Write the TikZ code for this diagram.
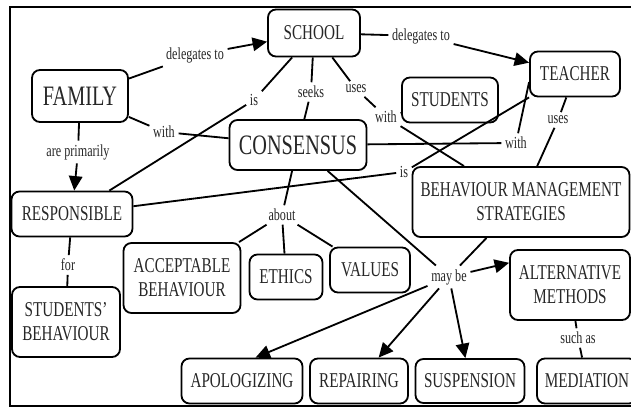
\documentclass[tikz,border=0pt]{standalone}
\usepackage{fontspec}
\setmainfont[FakeStretch=0.72]{Liberation Serif}
\usetikzlibrary{arrows.meta,calc}

\begin{document}
\begin{tikzpicture}[
	arr/.style={-{Triangle[angle=50:0.4cm]},line width=1.3pt},
	link/.style={line width=1.3pt},
	box/.style={rectangle,draw=black,rounded corners=0.2cm,line width=1.3pt,align=center,text=black!85,font=\fontsize{15}{17}\selectfont},
	bigbox/.style={box,font=\fontsize{20}{22}\selectfont},
	lbl/.style={inner sep=2.5pt,text=black!85,font=\fontsize{12}{14}\selectfont}]

    \clip (0cm,0cm) rectangle (15.775cm,10.2cm);
    \draw [line width=1.5pt] (0.25cm,0.05cm) rectangle (16.5cm,10.025cm);

    % concepts
    \node (SCHOOL) at (7.85cm,9.375cm) [box,minimum width=2.3cm,minimum height=1.175cm] {SCHOOL};
    \node (FAMILY) at (2cm,7.8cm) [bigbox,minimum width=2.4cm,minimum height=1.3cm] {FAMILY};
    \node (TEACHER) at (14.375cm,8.35cm) [box,minimum width=2.25cm,minimum height=1.125cm] {TEACHER};
    \node (STUDENTS) at (11.25cm,7.7cm) [box,minimum width=2.4cm,minimum height=1.125cm] {STUDENTS};
    \node (CONSENSUS) at (7.45cm,6.575cm) [bigbox,minimum width=3.425cm,minimum height=1.25cm] {CONSENSUS};
    \node (BMS) at (13.025cm,5.15cm) [box,minimum width=5.425cm,minimum height=1.75cm] {BEHAVIOUR MANAGEMENT\\STRATEGIES};
    \node (RESP) at (1.8cm,4.85cm) [box,minimum width=3.025cm,minimum height=1.125cm] {RESPONSIBLE};
    \node (STBEH) at (1.65cm,2.15cm) [box,minimum width=2.7cm,minimum height=1.75cm] {STUDENTS'\\BEHAVIOUR};
    \node (ACCEPT) at (4.55cm,3.25cm) [box,minimum width=2.925cm,minimum height=1.75cm] {ACCEPTABLE\\BEHAVIOUR};
    \node (ETHICS) at (7.15cm,3.275cm) [box,minimum width=1.825cm,minimum height=1.125cm] {ETHICS};
    \node (VALUES) at (9.25cm,3.45cm) [box,minimum width=2cm,minimum height=1.125cm] {VALUES};
    \node (ALT) at (14.25cm,3.075cm) [box,minimum width=3cm,minimum height=1.75cm] {ALTERNATIVE\\METHODS};
    \node (APOL) at (6.05cm,0.675cm) [box,minimum width=3.025cm,minimum height=1.125cm] {APOLOGIZING};
    \node (REPAIR) at (8.975cm,0.675cm) [box,minimum width=2.45cm,minimum height=1.125cm] {REPAIRING};
    \node (SUSP) at (11.75cm,0.675cm) [box,minimum width=2.725cm,minimum height=1.1cm] {SUSPENSION};
    \node (MED) at (14.675cm,0.675cm) [box,minimum width=2.5cm,minimum height=1.125cm] {MEDIATION};

    % linking words
    \node (delegFam) at (4.875cm,8.825cm) [lbl] {delegates to};
    \node (arePrim) at (1.95cm,6.4cm) [lbl] {are primarily};
    \node (withFam) at (4.1cm,6.9cm) [lbl] {with};
    \node (isSchool) at (6.35cm,7.7cm) [lbl] {is};
    \node (seeks) at (7.775cm,7.9cm) [lbl] {seeks};
    \node (usesSchool) at (8.9cm,7.975cm) [lbl] {uses};
    \node (withStud) at (9.65cm,7.275cm) [lbl] {with};
    \node (delegTeach) at (10.525cm,9.3cm) [lbl] {delegates to};
    \node (usesTeach) at (13.95cm,7.2cm) [lbl] {uses};
    \node (withTeach) at (12.9cm,6.625cm) [lbl] {with};
    \node (isTeach) at (10.1cm,5.9cm) [lbl] {is};
    \node (about) at (7.05cm,4.825cm) [lbl] {about};
    \node (maybe) at (11.225cm,3.275cm) [lbl] {may be};
    \node (for) at (1.7cm,3.575cm) [lbl] {for};
    \node (suchas) at (14.45cm,1.75cm) [lbl] {such as};

    % links
    \draw [link] (FAMILY) -- (delegFam);
    \draw [arr] (delegFam) -- (SCHOOL);
    \draw [link] (SCHOOL) -- (delegTeach);
    \draw [arr] (delegTeach) -- (TEACHER);
    \draw [link] (FAMILY) -- (arePrim);
    \draw [arr] (arePrim) -- (RESP);
    \draw [link] (FAMILY) -- (withFam);
    \draw [link] (withFam) -- (CONSENSUS);
    \draw [link] (RESP) -- (isSchool);
    \draw [link] (isSchool) -- (SCHOOL);
    \draw [link] (SCHOOL) -- (seeks);
    \draw [link] (seeks) -- (CONSENSUS);
    \draw [link] (SCHOOL) -- (usesSchool);
    \draw [link] (usesSchool) -- (withStud);
    \draw [link] (withStud) -- (STUDENTS);
    \draw [link] (withStud) -- (BMS);
    \draw [link] (CONSENSUS) -- (withTeach);
    \draw [link] (withTeach) -- (TEACHER.190);
    \draw [link] (RESP) -- (isTeach);
    \draw [link] (isTeach) -- (TEACHER.south west);
    \draw [link] (TEACHER) -- (usesTeach);
    \draw [link] (usesTeach) -- (BMS);
    \draw [link] (CONSENSUS) -- (about);
    \draw [link] (about) -- (ACCEPT);
    \draw [link] (about) -- (ETHICS);
    \draw [link] (about) -- (VALUES);
    \draw [link] (CONSENSUS) -- (maybe);
    \draw [link] (BMS) -- (maybe);
    \draw [arr] (maybe) -- (ALT.160);
    \draw [arr] (maybe) -- (APOL.60);
    \draw [arr] (maybe) -- (REPAIR.50);
    \draw [arr] (maybe) -- (SUSP);
    \draw [link] (RESP) -- (for);
    \draw [link] (for) -- (STBEH);
    \draw [link] (ALT) -- (suchas);
    \draw [link] (suchas) -- (MED);

\end{tikzpicture}
\end{document}
